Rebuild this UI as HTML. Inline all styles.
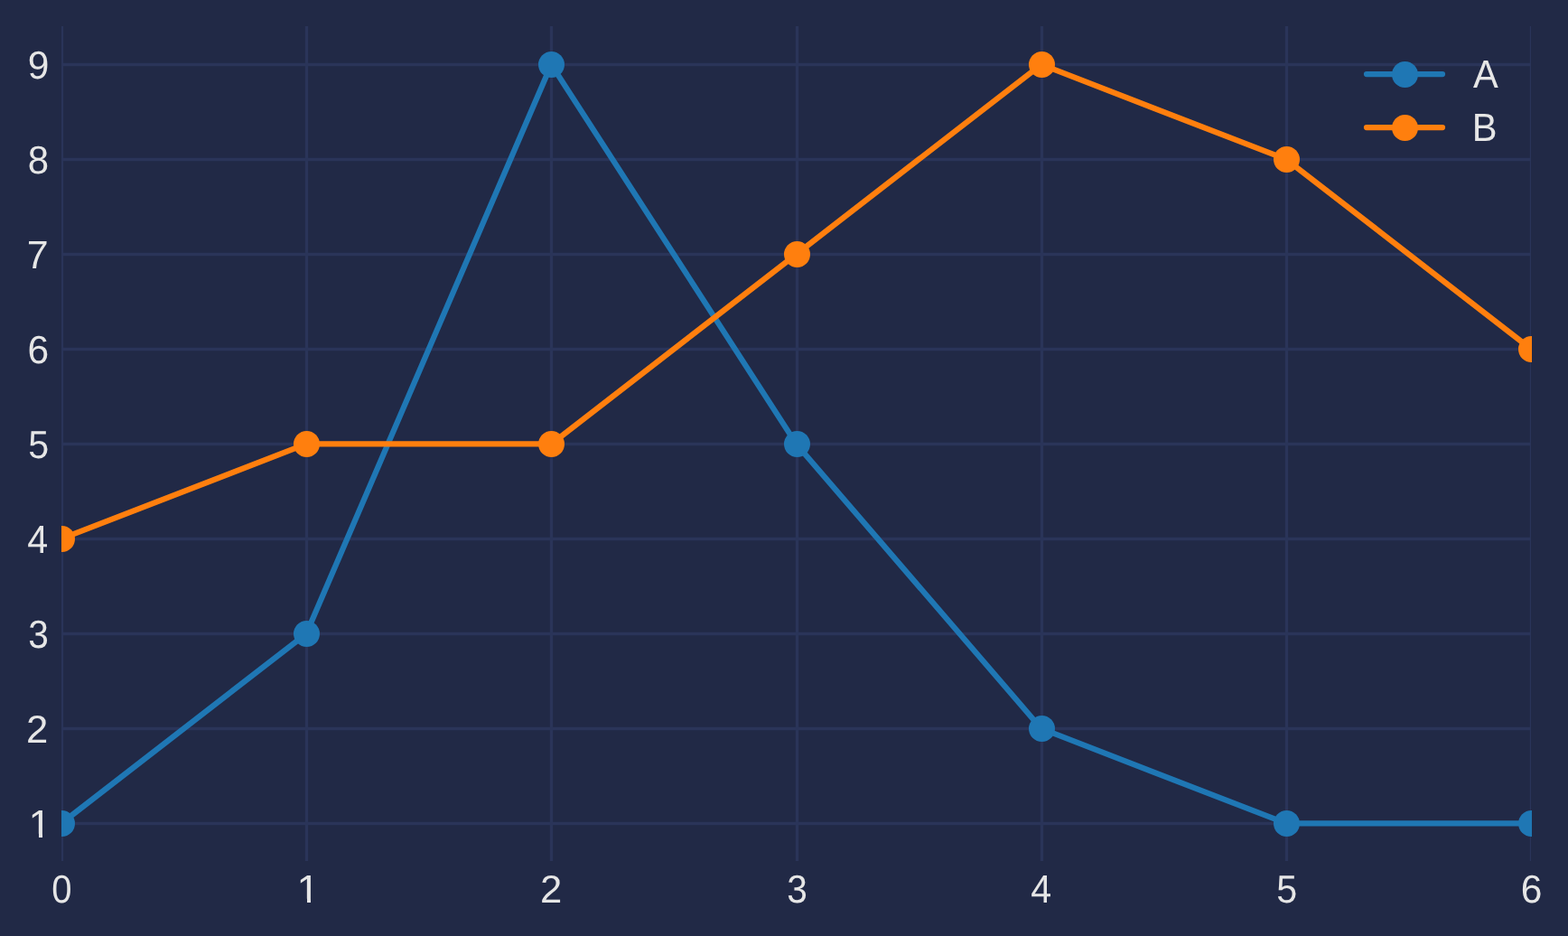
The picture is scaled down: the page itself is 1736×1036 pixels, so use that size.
<!DOCTYPE html>
<html lang="en">
<head>
<meta charset="utf-8">
<title>Line chart: A and B</title>
<style>
html,body{margin:0;padding:0;background:#212946;}
body{width:1736px;height:1036px;overflow:hidden;}
svg{display:block;}
text{font-family:"Liberation Sans",sans-serif;font-size:41.667px;fill:#e6e6e6;text-rendering:geometricPrecision;}
</style>
</head>
<body>
<svg width="1736" height="1036" viewBox="0 0 1736 1036" role="img" aria-label="Line chart of series A and B">
<defs>
<clipPath id="gridclip"><rect x="68" y="29" width="1627" height="924"/></clipPath>
<clipPath id="plotclip"><rect x="68" y="29" width="1628" height="925"/></clipPath>
<clipPath id="one"><path d="M-2,-40H30V-4.013H14.180V2H10.458V-4.013H-2Z"/></clipPath>
</defs>
<rect x="0" y="0" width="1736" height="1036" fill="#212946"/>
<g clip-path="url(#gridclip)" stroke="#2a3459" stroke-width="3.3333" fill="none">
<line x1="68.5" y1="20" x2="68.5" y2="960"/>
<line x1="339.5" y1="20" x2="339.5" y2="960"/>
<line x1="610.5" y1="20" x2="610.5" y2="960"/>
<line x1="882.5" y1="20" x2="882.5" y2="960"/>
<line x1="1153.5" y1="20" x2="1153.5" y2="960"/>
<line x1="1424.5" y1="20" x2="1424.5" y2="960"/>
<line x1="1695.5" y1="20" x2="1695.5" y2="960"/>
<line x1="60" y1="911.5" x2="1700" y2="911.5"/>
<line x1="60" y1="806.5" x2="1700" y2="806.5"/>
<line x1="60" y1="701.5" x2="1700" y2="701.5"/>
<line x1="60" y1="596.5" x2="1700" y2="596.5"/>
<line x1="60" y1="491.5" x2="1700" y2="491.5"/>
<line x1="60" y1="386.5" x2="1700" y2="386.5"/>
<line x1="60" y1="281.5" x2="1700" y2="281.5"/>
<line x1="60" y1="176.5" x2="1700" y2="176.5"/>
<line x1="60" y1="71.5" x2="1700" y2="71.5"/>
</g>
<g clip-path="url(#plotclip)">
<polyline points="67.83,911.42 339.08,701.42 610.33,71.42 881.58,491.42 1152.83,806.42 1424.08,911.42 1695.33,911.42" fill="none" stroke="#1f77b4" stroke-width="6.25" stroke-linejoin="round" stroke-linecap="round"/>
<circle cx="68.5" cy="911.5" r="14.5" fill="#1f77b4"/>
<circle cx="339.5" cy="701.5" r="14.5" fill="#1f77b4"/>
<circle cx="610.5" cy="71.5" r="14.5" fill="#1f77b4"/>
<circle cx="882.5" cy="491.5" r="14.5" fill="#1f77b4"/>
<circle cx="1153.5" cy="806.5" r="14.5" fill="#1f77b4"/>
<circle cx="1424.5" cy="911.5" r="14.5" fill="#1f77b4"/>
<circle cx="1695.5" cy="911.5" r="14.5" fill="#1f77b4"/>
</g>
<g clip-path="url(#plotclip)">
<polyline points="67.83,596.42 339.08,491.42 610.33,491.42 881.58,281.42 1152.83,71.42 1424.08,176.42 1695.33,386.42" fill="none" stroke="#ff7f0e" stroke-width="6.25" stroke-linejoin="round" stroke-linecap="round"/>
<circle cx="68.5" cy="596.5" r="14.5" fill="#ff7f0e"/>
<circle cx="339.5" cy="491.5" r="14.5" fill="#ff7f0e"/>
<circle cx="610.5" cy="491.5" r="14.5" fill="#ff7f0e"/>
<circle cx="882.5" cy="281.5" r="14.5" fill="#ff7f0e"/>
<circle cx="1153.5" cy="71.5" r="14.5" fill="#ff7f0e"/>
<circle cx="1424.5" cy="176.5" r="14.5" fill="#ff7f0e"/>
<circle cx="1695.5" cy="386.5" r="14.5" fill="#ff7f0e"/>
</g>
<g>
<text transform="translate(30.80,87.30) scale(1.0197,1.0417)">9</text>
<text transform="translate(30.71,192.30) scale(1.0061,1.0417)">8</text>
<text transform="translate(28.50,297.00) scale(1.0264,1.0465) skewX(-2.70)">7</text>
<text transform="translate(30.40,402.30) scale(1.0203,1.0417)">6</text>
<text transform="translate(31.23,507.10) scale(0.9904,1.0405)">5</text>
<text transform="translate(30.27,612.00) scale(0.9905,1.0465)">4</text>
<text transform="translate(31.33,717.30) scale(0.9767,1.0417)">3</text>
<text transform="translate(29.08,822.10) scale(1.0464,1.0340)">2</text>
<text clip-path="url(#one)" transform="translate(31.62,927.00) scale(1.0862,1.0465)">1</text>
</g>
<g>
<text transform="translate(57.28,999.30) scale(0.9608,1.0417)">0</text>
<text clip-path="url(#one)" transform="translate(328.62,999.00) scale(1.0862,1.0465)">1</text>
<text transform="translate(598.10,999.10) scale(1.0464,1.0340)">2</text>
<text transform="translate(871.30,999.30) scale(0.9767,1.0417)">3</text>
<text transform="translate(1141.19,999.00) scale(0.9905,1.0465)">4</text>
<text transform="translate(1413.20,999.10) scale(0.9904,1.0405)">5</text>
<text transform="translate(1683.67,999.30) scale(1.0203,1.0417)">6</text>
</g>
<line x1="1513" y1="82.0" x2="1597" y2="82.0" stroke="#1f77b4" stroke-width="6.25" stroke-linecap="round"/>
<circle cx="1555.5" cy="82.5" r="14.5" fill="#1f77b4"/>
<text transform="translate(1630.90,97.00) scale(1,1.0465)">A</text>
<line x1="1513" y1="141.0" x2="1597" y2="141.0" stroke="#ff7f0e" stroke-width="6.25" stroke-linecap="round"/>
<circle cx="1555.5" cy="141.5" r="14.5" fill="#ff7f0e"/>
<text transform="translate(1629.70,156.00) scale(1,1.0465)">B</text>
</svg>
</body>
</html>
